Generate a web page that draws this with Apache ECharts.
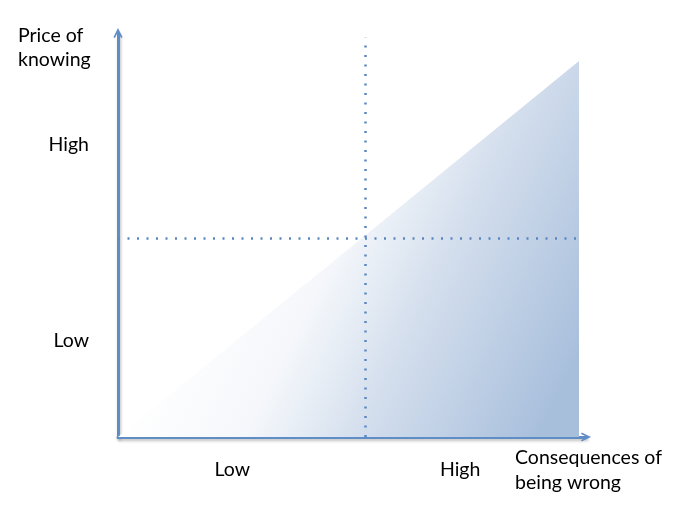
<!DOCTYPE html>
<html>
<head>
<meta charset="utf-8">
<script src="https://cdn.jsdelivr.net/npm/echarts@6/dist/echarts.min.js"></script>
<style>
  html, body { margin: 0; padding: 0; background: #fff; }
  #main { width: 676px; height: 517px; }
</style>
</head>
<body>
<div id="main"></div>
<script>
  // data
  var xTickValues = [24.4, 73.1];
  var xTickLabels = ['Low', 'High'];
  var yTickValues = [23.8, 72.3];
  var yTickLabels = ['Low', 'High'];
  var wedge = [[0, 0], [98.5, 93.1]];   // price of knowing rises with consequences
  var xSplit = 52.8;
  var ySplit = 49.3;
  var xTitle = 'Consequences of\nbeing wrong';
  var yTitle = 'Price of\nknowing';

  var axisColor = '#5f8dc6';
  var dotColor = '#5b87c0';
  var font = 'Lato, "Open Sans", sans-serif';
  var fs = 19.5;

  var myChart = echarts.init(document.getElementById('main'));

  function tickName(values, labels) {
    return function (v) {
      for (var i = 0; i < values.length; i++) {
        if (Math.abs(values[i] - v) < 0.01) return labels[i];
      }
      return '';
    };
  }

  var axisLine = {
    show: true,
    symbol: ['none', 'path://M0,12 L6,0 L12,12 L10,13 L6,5 L2,13 Z'],
    symbolSize: [12, 10],
    lineStyle: {
      color: axisColor,
      width: 3,
      shadowColor: 'rgba(0,0,0,0.25)',
      shadowBlur: 3,
      shadowOffsetX: 1,
      shadowOffsetY: 2
    }
  };

  myChart.setOption({
    animation: false,
    grid: {
      left: 118,
      right: 90,
      top: 33,
      bottom: 80
    },
    xAxis: {
      type: 'value',
      min: 0,
      max: 100,
      axisLine: axisLine,
      axisTick: { show: false },
      splitLine: { show: false },
      axisLabel: {
        customValues: xTickValues,
        formatter: tickName(xTickValues, xTickLabels),
        margin: 23,
        fontSize: fs,
        color: '#000',
        fontFamily: font
      }
    },
    yAxis: {
      type: 'value',
      min: 0,
      max: 100,
      axisLine: axisLine,
      axisTick: { show: false },
      splitLine: { show: false },
      axisLabel: {
        customValues: yTickValues,
        formatter: tickName(yTickValues, yTickLabels),
        margin: 29,
        fontSize: fs,
        color: '#000',
        fontFamily: font
      }
    },
    graphic: [{
      type: 'text',
      left: 18,
      top: 24,
      style: {
        text: yTitle,
        fontSize: fs,
        lineHeight: 24,
        fill: '#000',
        fontFamily: font
      }
    }, {
      type: 'text',
      left: 515,
      top: 445,
      style: {
        text: xTitle,
        fontSize: fs,
        lineHeight: 25,
        fill: '#000',
        fontFamily: font
      }
    }],
    series: [{
      type: 'line',
      data: wedge,
      symbol: 'none',
      z: 1,
      lineStyle: { width: 0 },
      areaStyle: {
        opacity: 1,
        color: new echarts.graphic.LinearGradient(0, 1, 0.735, 1.441, [
          { offset: 0, color: '#ffffff' },
          { offset: 0.3, color: '#f5f7fb' },
          { offset: 0.4, color: '#e9eff6' },
          { offset: 0.55, color: '#d6e0ee' },
          { offset: 1, color: '#a8bfdc' }
        ])
      },
      markLine: {
        silent: true,
        symbol: 'none',
        label: { show: false },
        lineStyle: { color: dotColor, width: 2.5, type: [2, 7.5] },
        data: [
          [{ coord: [xSplit, 0] }, { coord: [xSplit, 98.8] }],
          [{ coord: [0, ySplit] }, { coord: [98, ySplit] }]
        ]
      }
    }]
  });
</script>
</body>
</html>
